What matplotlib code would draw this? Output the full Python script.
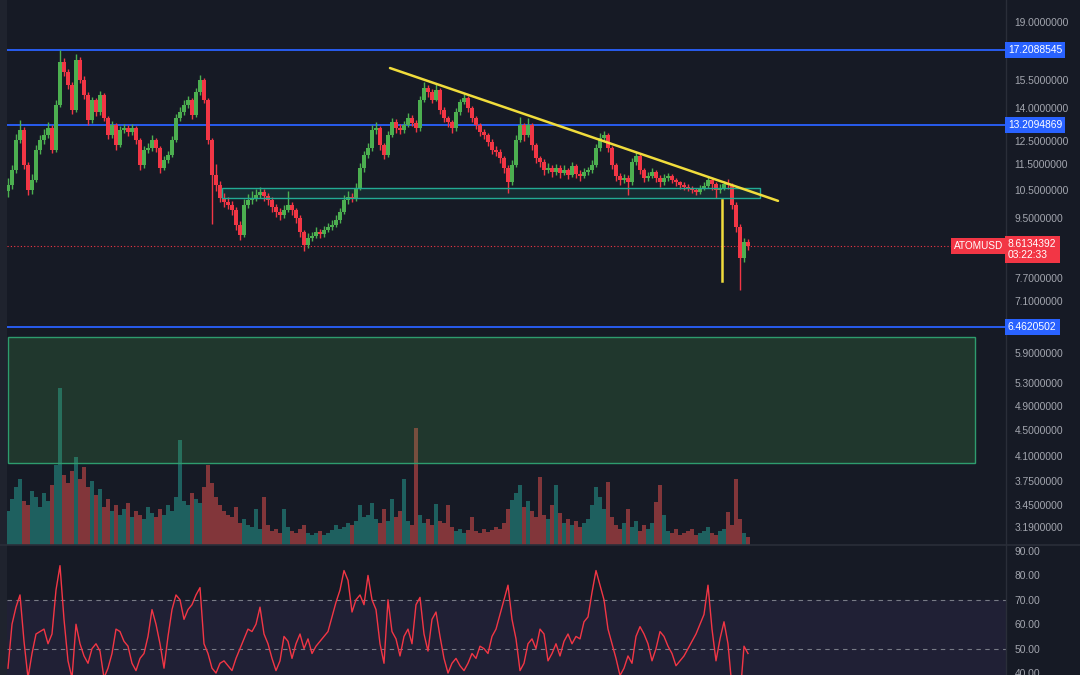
import matplotlib
matplotlib.use("Agg")
import matplotlib.pyplot as plt
import matplotlib.transforms as mtransforms
from matplotlib.patches import Rectangle
from matplotlib.ticker import NullLocator

plt.rcParams["font.family"] = ["Liberation Sans", "DejaVu Sans"]

BG = "#161a25"
GRID_LINE = "#2a2e39"
TEXT = "#a3a6af"
UP = "#4caf50"
DOWN = "#f23645"
VOL_UP = "#26a69a"
VOL_DOWN = "#ef5350"
LEVEL_BLUE = "#2962ff"
YELLOW = "#f0dc3c"
ZONE = "#22ab94"

# ---- candle data (ATOMUSD) ----
opens = [10.45, 10.68, 11.26, 12.52, 12.97, 11.46, 10.49, 10.87, 12.09, 12.52,
         12.75, 13.06, 12.09, 14.17, 16.49, 15.93, 15.21, 13.92, 16.61, 15.48,
         14.68, 13.44, 14.42, 13.82, 14.68, 13.54, 12.75, 13.20, 12.30, 12.97,
         13.06, 12.88, 13.06, 12.52, 11.46, 12.09, 12.17, 12.52, 12.17, 11.34,
         11.67, 11.88, 12.52, 13.54, 13.82, 14.17, 14.42, 13.68, 14.84, 15.48,
         14.42, 12.52, 11.07, 10.68, 10.20, 10.06, 9.95, 9.78, 9.27, 8.95,
         9.95, 10.13, 10.20, 10.31, 10.42, 10.27, 10.13, 9.88, 9.71, 9.61,
         9.78, 9.95, 9.78, 9.51, 9.04, 8.64, 8.86, 8.92, 9.04, 8.98,
         9.11, 9.21, 9.27, 9.44, 9.71, 10.13, 10.24, 10.20, 10.57, 11.34,
         11.88, 12.17, 12.97, 13.06, 12.30, 11.88, 12.75, 13.35, 13.06, 12.97,
         13.20, 13.54, 13.30, 13.06, 14.42, 15.05, 14.84, 14.42, 14.94, 13.92,
         13.54, 13.35, 13.06, 13.82, 14.32, 14.52, 14.02, 13.54, 13.20, 12.88,
         12.75, 12.43, 12.09, 12.00, 11.75, 11.34, 10.79, 11.46, 12.52, 13.20,
         12.75, 13.20, 12.30, 11.75, 11.59, 11.26, 11.34, 11.18, 11.34, 11.15,
         11.26, 11.07, 11.42, 11.11, 11.03, 11.18, 11.26, 11.46, 12.17, 12.61,
         12.75, 12.17, 11.46, 11.03, 10.87, 10.95, 10.79, 11.59, 11.84, 11.26,
         10.95, 11.03, 11.18, 10.95, 10.79, 10.95, 11.03, 10.87, 10.79, 10.68,
         10.61, 10.57, 10.49, 10.42, 10.57, 10.64, 10.87, 10.72, 10.49, 10.57,
         10.72, 10.68, 9.95, 9.21, 8.25, 8.72]

closes = [10.68, 11.26, 12.52, 12.97, 11.46, 10.49, 10.87, 12.09, 12.52, 12.75,
          13.06, 12.09, 14.17, 16.49, 15.93, 15.21, 13.92, 16.61, 15.48, 14.68,
          13.44, 14.42, 13.82, 14.68, 13.54, 12.75, 13.20, 12.30, 12.97, 13.06,
          12.88, 13.06, 12.52, 11.46, 12.09, 12.17, 12.52, 12.17, 11.34, 11.67,
          11.88, 12.52, 13.54, 13.82, 14.17, 14.42, 13.68, 14.84, 15.48, 14.42,
          12.52, 11.07, 10.68, 10.20, 10.06, 9.95, 9.78, 9.27, 8.95, 9.95,
          10.13, 10.20, 10.31, 10.42, 10.27, 10.13, 9.88, 9.71, 9.61, 9.78,
          9.95, 9.78, 9.51, 9.04, 8.64, 8.86, 8.92, 9.04, 8.98, 9.11,
          9.21, 9.27, 9.44, 9.71, 10.13, 10.24, 10.20, 10.57, 11.34, 11.88,
          12.17, 12.97, 13.06, 12.30, 11.88, 12.75, 13.35, 13.06, 12.97, 13.20,
          13.54, 13.30, 13.06, 14.42, 15.05, 14.84, 14.42, 14.94, 13.92, 13.54,
          13.35, 13.06, 13.82, 14.32, 14.52, 14.02, 13.54, 13.20, 12.88, 12.75,
          12.43, 12.09, 12.00, 11.75, 11.34, 10.79, 11.46, 12.52, 13.20, 12.75,
          13.20, 12.30, 11.75, 11.59, 11.26, 11.34, 11.18, 11.34, 11.15, 11.26,
          11.07, 11.42, 11.11, 11.03, 11.18, 11.26, 11.46, 12.17, 12.61, 12.75,
          12.17, 11.46, 11.03, 10.87, 10.95, 10.79, 11.59, 11.84, 11.26, 10.95,
          11.03, 11.18, 10.95, 10.79, 10.95, 11.03, 10.87, 10.79, 10.68, 10.61,
          10.57, 10.49, 10.42, 10.57, 10.64, 10.87, 10.72, 10.49, 10.57, 10.72,
          10.68, 9.95, 9.21, 8.25, 8.72, 8.6134392]

highs = [10.95, 11.45, 12.80, 13.45, 13.10, 11.60, 11.10, 12.30, 12.75, 13.00,
         13.35, 13.20, 14.40, 17.21, 16.75, 16.10, 15.35, 16.95, 16.80, 15.70,
         14.85, 14.60, 14.55, 14.90, 14.80, 13.65, 13.40, 13.30, 13.15, 13.25,
         13.20, 13.25, 13.15, 12.60, 12.25, 12.40, 12.75, 12.60, 12.25, 11.85,
         12.05, 12.70, 13.75, 14.05, 14.40, 14.65, 14.55, 15.05, 15.75, 15.60,
         14.55, 12.60, 11.50, 10.85, 10.40, 10.25, 10.10, 9.90, 9.40, 10.15,
         10.35, 10.45, 10.55, 10.60, 10.55, 10.40, 10.25, 10.00, 9.85, 9.95,
         10.45, 10.05, 9.85, 9.60, 9.10, 9.00, 9.05, 9.20, 9.15, 9.25,
         9.35, 9.45, 9.60, 9.85, 10.30, 10.45, 10.40, 10.75, 11.55, 12.05,
         12.40, 13.20, 13.35, 13.15, 12.40, 12.95, 13.55, 13.50, 13.25, 13.40,
         13.80, 13.70, 13.45, 14.65, 15.35, 15.20, 15.00, 15.30, 15.05, 14.05,
         13.65, 13.45, 14.00, 14.50, 14.75, 14.65, 14.10, 13.65, 13.30, 13.00,
         12.85, 12.55, 12.25, 12.15, 11.85, 11.45, 11.65, 12.75, 13.60, 13.30,
         13.55, 13.30, 12.40, 11.85, 11.70, 11.55, 11.45, 11.50, 11.45, 11.45,
         11.35, 11.60, 11.50, 11.25, 11.35, 11.40, 11.65, 12.35, 12.85, 12.95,
         12.85, 12.25, 11.55, 11.15, 11.10, 11.05, 11.75, 12.00, 11.90, 11.35,
         11.20, 11.35, 11.25, 11.05, 11.10, 11.15, 11.10, 10.95, 10.85, 10.78,
         10.72, 10.65, 10.58, 10.70, 10.80, 11.00, 10.95, 10.78, 10.72, 10.85,
         10.90, 10.75, 10.05, 9.30, 8.85, 8.82]

lows = [10.25, 10.55, 11.15, 12.40, 11.30, 10.30, 10.35, 10.80, 11.90, 12.35,
        12.60, 11.95, 12.00, 14.05, 15.70, 15.00, 13.75, 13.85, 15.30, 14.50,
        13.20, 13.30, 13.65, 13.70, 13.40, 12.55, 12.60, 12.10, 12.20, 12.85,
        12.70, 12.75, 12.35, 11.25, 11.35, 11.95, 12.05, 12.00, 11.15, 11.25,
        11.55, 11.80, 12.45, 13.40, 13.70, 14.00, 13.50, 13.60, 14.70, 14.25,
        12.35, 9.30, 10.45, 10.05, 9.90, 9.80, 9.60, 9.10, 8.80, 8.90,
        9.85, 10.00, 10.10, 10.20, 10.10, 9.95, 9.70, 9.55, 9.45, 9.50,
        9.70, 9.60, 9.35, 8.90, 8.45, 8.55, 8.75, 8.85, 8.85, 8.90,
        9.05, 9.10, 9.20, 9.35, 9.65, 10.00, 10.05, 10.10, 10.50, 11.20,
        11.75, 12.05, 12.80, 12.10, 11.70, 11.80, 12.65, 12.85, 12.80, 12.85,
        13.10, 13.15, 12.90, 12.95, 14.30, 14.60, 14.25, 14.35, 13.75, 13.35,
        13.10, 12.85, 12.95, 13.70, 14.20, 13.85, 13.35, 13.00, 12.70, 12.55,
        12.25, 11.90, 11.85, 11.55, 11.15, 10.40, 10.70, 11.40, 12.45, 12.50,
        12.65, 12.10, 11.55, 11.40, 11.05, 11.15, 11.00, 11.05, 10.95, 11.05,
        10.90, 11.00, 10.95, 10.85, 10.95, 11.05, 11.15, 11.40, 12.05, 12.50,
        12.00, 11.30, 10.85, 10.70, 10.75, 10.30, 10.70, 11.45, 11.10, 10.80,
        10.85, 10.95, 10.80, 10.60, 10.70, 10.85, 10.75, 10.65, 10.55, 10.50,
        10.45, 10.38, 10.30, 10.35, 10.48, 10.58, 10.50, 10.22, 10.40, 10.50,
        10.55, 9.80, 9.05, 7.38, 8.15, 8.50]

# volume (thousands of ATOM)
volumes = [34, 46, 58, 66, 44, 40, 54, 48, 38, 52,
           44, 60, 80, 157, 70, 62, 74, 88, 66, 78,
           58, 64, 50, 56, 38, 46, 34, 40, 30, 36,
           42, 28, 34, 30, 26, 38, 32, 28, 36, 30,
           40, 34, 48, 105, 44, 40, 52, 46, 42, 58,
           80, 62, 48, 40, 34, 30, 28, 38, 22, 26,
           20, 18, 36, 16, 48, 20, 14, 16, 12, 36,
           18, 14, 12, 16, 20, 12, 10, 12, 14, 10,
           12, 15, 20, 16, 18, 22, 20, 24, 40, 28,
           30, 42, 26, 22, 36, 24, 46, 28, 34, 66,
           24, 20, 117, 30, 22, 26, 20, 41, 24, 22,
           40, 18, 14, 16, 12, 15, 28, 14, 12, 16,
           13, 15, 18, 16, 22, 36, 45, 52, 60, 38,
           44, 34, 28, 68, 30, 26, 40, 60, 32, 22,
           26, 20, 24, 18, 22, 26, 40, 58, 48, 36,
           63, 28, 20, 16, 22, 36, 18, 24, 14, 20,
           16, 22, 43, 60, 30, 14, 12, 16, 10, 12,
           14, 16, 10, 12, 14, 18, 12, 10, 14, 16,
           33, 20, 66, 26, 12, 8]

rsi = [42, 60, 67, 72, 53, 38, 48, 56, 57, 58,
       52, 56, 74, 84, 62, 45, 38, 60, 52, 47,
       44, 50, 52, 49, 38, 42, 48, 58, 57, 53,
       51, 44, 41, 46, 48, 55, 66, 60, 52, 42,
       55, 66, 72, 70, 62, 66, 68, 72, 75, 52,
       48, 42, 40, 44, 45, 43, 41, 46, 50, 54,
       58, 57, 60, 67, 56, 52, 46, 41, 45, 55,
       53, 46, 52, 56, 50, 54, 48, 51, 53, 55,
       57, 63, 69, 74, 82, 78, 65, 70, 72, 68,
       80, 70, 66, 52, 44, 70, 57, 54, 47, 55,
       58, 52, 68, 71, 56, 49, 62, 65, 55, 46,
       40, 44, 46, 43, 41, 44, 48, 46, 51, 50,
       48, 55, 58, 64, 70, 76, 62, 54, 41, 44,
       52, 54, 50, 58, 56, 45, 48, 52, 47, 53,
       56, 52, 55, 54, 61, 63, 73, 82, 76, 70,
       58, 52, 46, 39, 42, 47, 44, 55, 59, 56,
       52, 45, 50, 57, 55, 51, 48, 43, 45, 47,
       50, 53, 56, 60, 64, 76, 58, 45, 54, 61,
       52, 34, 28, 30, 51, 48]

# ---- drawings ----
levels = [17.2088545, 13.2094869, 6.4620502]
last_price = 8.6134392
countdown = "03:22:33"
symbol = "ATOMUSD"
trend_bar = [95.5, 192.5]
trend_price = [16.15, 10.10]
zone_bar = [53.5, 188.0]
zone_price = [10.20, 10.58]
box_bar = [0.0, 241.75]
box_price = [4.00, 6.24]
drop_bar = 178.5
drop_price = [7.60, 10.13]

price_ticks = [19.0, 15.5, 14.0, 12.5, 11.5, 10.5, 9.5, 7.7, 7.1,
               5.9, 5.3, 4.9, 4.5, 4.1, 3.75, 3.45, 3.19]
rsi_ticks = [90, 80, 70, 60, 50, 40]

W, H = 1080, 675
fig = plt.figure(figsize=(W / 100, H / 100), dpi=100, facecolor=BG)

left = 7 / W
width = 999 / W
ax = fig.add_axes([left, 130 / H, width, 545 / H])
ax_vol = fig.add_axes([left, 130 / H, width, 215 / H], sharex=ax)
ax_rsi = fig.add_axes([left, 0, width, 129 / H], sharex=ax)

for a in (ax, ax_vol, ax_rsi):
    a.set_facecolor(BG)
    for s in a.spines.values():
        s.set_visible(False)
    a.tick_params(axis="x", bottom=False, labelbottom=False)
ax_vol.patch.set_alpha(0)
ax_vol.set_zorder(1)
ax.set_zorder(2)
ax.patch.set_alpha(0)
ax_rsi.set_zorder(0)

n = len(closes)
idx = list(range(n))
colors = [UP if c >= o else DOWN for o, c in zip(opens, closes)]

# volume bars
vcolors = [VOL_UP if c >= o else VOL_DOWN for o, c in zip(opens, closes)]
ax_vol.bar(idx, volumes, width=0.85, color=vcolors, alpha=0.5, linewidth=0)
ax_vol.set_ylim(0, 215)
ax_vol.set_yticks([])

# main price pane
ax.set_yscale("log")
ax.set_xlim(-0.25, 249.5)
ax.set_ylim(2.993, 20.54)

# big green box and the zone box
ax.add_patch(Rectangle((box_bar[0], box_price[0]), box_bar[1] - box_bar[0],
                       box_price[1] - box_price[0], facecolor="#4caf50", alpha=0.2,
                       edgecolor="none", zorder=1))
ax.add_patch(Rectangle((box_bar[0], box_price[0]), box_bar[1] - box_bar[0],
                       box_price[1] - box_price[0], facecolor="none",
                       edgecolor="#2e9c6e", lw=1.0, zorder=1))
ax.add_patch(Rectangle((zone_bar[0], zone_price[0]), zone_bar[1] - zone_bar[0],
                       zone_price[1] - zone_price[0], facecolor=ZONE, alpha=0.12,
                       edgecolor="none", zorder=2))
ax.add_patch(Rectangle((zone_bar[0], zone_price[0]), zone_bar[1] - zone_bar[0],
                       zone_price[1] - zone_price[0], facecolor="none",
                       edgecolor=ZONE, lw=1.0, zorder=4))

for lv in levels:
    ax.axhline(lv, color=LEVEL_BLUE, lw=1.3, zorder=2)
ax.axhline(last_price, color=DOWN, lw=0.8, ls=(0, (1, 2)), zorder=2)

# candles
ax.vlines(idx, lows, highs, colors=colors, lw=1.0, zorder=3)
bottoms = [min(o, c) for o, c in zip(opens, closes)]
heights = [max(abs(c - o), 0.01) for o, c in zip(opens, closes)]
ax.bar(idx, heights, bottom=bottoms, width=0.88, color=colors, linewidth=0, zorder=3)

# trendline and drop marker
ax.plot(trend_bar, trend_price, color=YELLOW, lw=1.8, zorder=5, solid_capstyle="round")
ax.plot([drop_bar, drop_bar], drop_price, color=YELLOW, lw=1.8, zorder=5)

ax.set_yticks(price_ticks)
ax.set_yticklabels([f"{t:.7f}" for t in price_ticks])
ax.yaxis.set_minor_locator(NullLocator())
ax.tick_params(axis="y", left=False, labelleft=False, right=True, labelright=True,
               length=0, pad=6, labelcolor=TEXT, labelsize=7.4)

trans = mtransforms.blended_transform_factory(ax.transAxes, ax.transData)
for lv in levels:
    ax.text(1.002, lv, f"{lv:.7f}", transform=trans, ha="left", va="center",
            color="white", fontsize=7.4, zorder=10, clip_on=False,
            bbox=dict(boxstyle="square,pad=0.3", facecolor=LEVEL_BLUE, edgecolor="none"))
ax.annotate(f"{last_price:.7f}\n{countdown}", xy=(1.002, last_price), xycoords=trans,
            xytext=(0, 5), textcoords="offset points", ha="left", va="top",
            color="white", fontsize=7.4, linespacing=1.15, annotation_clip=False, zorder=10,
            bbox=dict(boxstyle="square,pad=0.3", facecolor=DOWN, edgecolor="none"))
ax.text(0.9975, last_price, symbol, transform=trans, ha="right", va="center",
        color="white", fontsize=7.2, zorder=10,
        bbox=dict(boxstyle="square,pad=0.3", facecolor=DOWN, edgecolor="none"))

# RSI pane
ax_rsi.set_ylim(39.2, 92.05)
ax_rsi.axhspan(30, 70, color="#7e57c2", alpha=0.1, lw=0, zorder=0)
for lvl in (70, 50, 30):
    ax_rsi.axhline(lvl, color="#787b86", lw=0.8, ls=(0, (4, 4)), zorder=1)
ax_rsi.plot(idx, rsi, color=DOWN, lw=1.0, zorder=3)
ax_rsi.set_yticks(rsi_ticks)
ax_rsi.set_yticklabels([f"{t:.2f}" for t in rsi_ticks])
ax_rsi.tick_params(axis="y", left=False, labelleft=False, right=True, labelright=True,
                   length=0, pad=6, labelcolor=TEXT, labelsize=7.4)

# pane frame lines and the left strip
fig.add_artist(plt.Line2D([0, 1], [130 / H, 130 / H], color=GRID_LINE, lw=1.2))
fig.add_artist(plt.Line2D([1006 / W, 1006 / W], [0, 1], color=GRID_LINE, lw=1.0))
fig.add_artist(Rectangle((0, 0), 7 / W, 1, transform=fig.transFigure,
                         facecolor="#1f232e", edgecolor="none"))

fig.savefig("out.png", dpi=100, facecolor=BG)
